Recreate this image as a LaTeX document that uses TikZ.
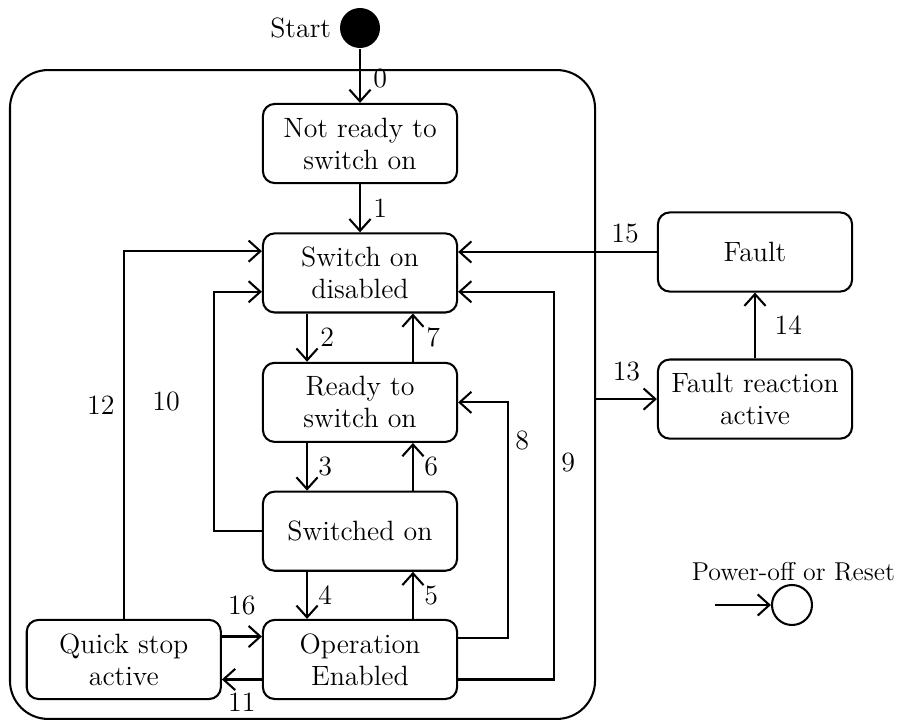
\documentclass[tikz,border=0pt]{standalone}
\usetikzlibrary{arrows.meta,positioning}

\begin{document}
\begin{tikzpicture}[x=0.017cm, y=-0.017cm, line width=1pt,
  font=\fontsize{13.5}{15.5}\selectfont, node distance=8.2mm,
  state/.style={draw, rounded corners=2mm, minimum width=3.3cm, minimum height=1.345cm, align=center, inner sep=2pt},
  arr/.style={-{Straight Barb[length=2mm,width=3.6mm]}},
  lbl/.style={inner sep=1pt}]
  \useasboundingbox (0,0) rectangle (903,721);
  \node[draw, rounded corners=6.5mm, minimum width=9.945cm, minimum height=11.03cm] (device) at (302.5,394.5) {};
  \node[circle, fill, minimum size=6.8mm, inner sep=0pt] (start) at (360,28) {};
  \node[left=0pt of start] (startlbl) {Start};
  \node[state] (notready) at (360,143.5) {Not ready to\\switch on};
  \node[state, below=of notready] (disabled) {Switch on\\disabled};
  \node[state, below=of disabled] (ready) {Ready to\\switch on};
  \node[state, below=8.1mm of ready] (swon) {Switched on};
  \node[state, below=8mm of swon] (openab) {Operation\\Enabled};
  \node[state, left=6.8mm of openab] (qstop) {Quick stop\\active};
  \node[state] (fault) at (755,252) {Fault};
  \node[state, below=11.2mm of fault] (freact) {Fault reaction\\active};
  \node[anchor=east, font=\fontsize{12.5}{15}\selectfont] (resetlbl) at (903,572) {Power-off or Reset};
  \node[circle, draw, minimum size=6.8mm, inner sep=0pt] (reset) at (792,605) {};
  \coordinate (resetin) at (715,605);
  % main chain
  \draw[arr] (start) -- (notready) node[lbl, pos=0.55, right=5pt] {0};
  \draw[arr] (notready) -- (disabled) node[lbl, midway, right=5pt] {1};
  \draw[arr] ([xshift=-9mm]disabled.south) -- ([xshift=-9mm]ready.north) node[lbl, midway, right=5pt] {2};
  \draw[arr] ([xshift=9mm]ready.north) -- ([xshift=9mm]disabled.south) node[lbl, midway, right=5pt] {7};
  \draw[arr] ([xshift=-9mm]ready.south) -- ([xshift=-9mm]swon.north) node[lbl, midway, right=4pt] {3};
  \draw[arr] ([xshift=9mm]swon.north) -- ([xshift=9mm]ready.south) node[lbl, midway, right=4pt] {6};
  \draw[arr] ([xshift=-9mm]swon.south) -- ([xshift=-9mm]openab.north) node[lbl, midway, right=4pt] {4};
  \draw[arr] ([xshift=9mm]openab.north) -- ([xshift=9mm]swon.south) node[lbl, midway, right=4pt] {5};
  % quick stop
  \draw[arr] ([yshift=3.9mm]qstop.east) -- ([yshift=3.9mm]openab.west) node[lbl, midway, above=9pt] {16};
  \draw[arr] ([yshift=-3.4mm]openab.west) -- ([yshift=-3.4mm]qstop.east) node[lbl, midway, below=5pt] {11};
  \draw[arr] (qstop.north) |- ([yshift=3.7mm]disabled.west) node[lbl, pos=0.29, left=3pt] {12};
  % back loops
  \draw[arr] (swon.west) -- ++(-48,0) |- ([yshift=-3.2mm]disabled.west) node[lbl, pos=0.27, left=15pt] {10};
  \draw[arr] ([yshift=3.7mm]openab.east) -- ++(50,0) |- (ready.east) node[lbl, pos=0.42, right=2pt] {8};
  \draw[arr] ([yshift=-3.4mm]openab.east) -- ++(96,0) |- ([yshift=-3.2mm]disabled.east) node[lbl, pos=0.28, right=2pt] {9};
  % fault handling
  \draw[arr] (device.east |- freact.west) -- (freact.west) node[lbl, midway, above=7pt] {13};
  \draw[arr] (freact) -- (fault) node[lbl, midway, right=8pt] {14};
  \draw[arr] (fault.west) -- (fault.west -| disabled.east) node[lbl, pos=0.16, above=3pt] {15};
  \draw[arr] (resetin) -- (reset);
\end{tikzpicture}
\end{document}
